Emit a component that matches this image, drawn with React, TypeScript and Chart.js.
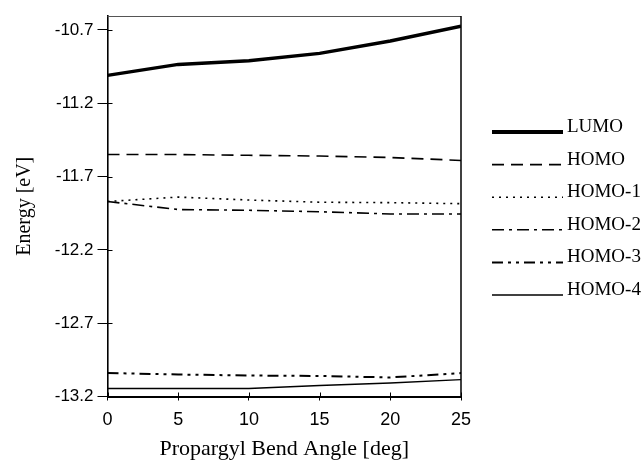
import React, { useEffect, useRef } from "react";
import { Chart, registerables } from "chart.js";

Chart.register(...registerables);

const angles = [0, 5, 10, 15, 20, 25];
const lumo = [-11.01, -10.935, -10.91, -10.86, -10.775, -10.675];
const homo = [-11.55, -11.55, -11.555, -11.56, -11.57, -11.59];
const homo1 = [-11.87, -11.84, -11.86, -11.875, -11.878, -11.885];
const homo2 = [-11.87, -11.925, -11.93, -11.94, -11.955, -11.955];
const homo3 = [-13.04, -13.05, -13.057, -13.06, -13.07, -13.04];
const homo4 = [-13.145, -13.145, -13.145, -13.125, -13.108, -13.085];

const seriesNames = ["LUMO", "HOMO", "HOMO-1", "HOMO-2", "HOMO-3", "HOMO-4"];
const yTicks = [-13.2, -12.7, -12.2, -11.7, -11.2, -10.7];
const xTicks = [0, 5, 10, 15, 20, 25];

const SERIF = "'Liberation Serif', 'Times New Roman', serif";
const SANS = "'Liberation Sans', Arial, sans-serif";

const styles = [
  { width: 3.5, dash: [] as number[] },
  { width: 1.6, dash: [12, 7] },
  { width: 1.6, dash: [2, 5] },
  { width: 1.6, dash: [12, 5, 3, 5] },
  { width: 2, dash: [11, 5, 3, 5, 3, 5] },
  { width: 1.4, dash: [] as number[] },
];

const boxPlugin = {
  id: "box",
  afterDatasetsDraw(chart: any) {
    const { ctx, chartArea: a, scales } = chart;
    ctx.save();
    ctx.strokeStyle = "#555";
    ctx.lineWidth = 1;
    ctx.beginPath();
    ctx.moveTo(a.left, a.top + 0.5);
    ctx.lineTo(a.right, a.top + 0.5);
    ctx.stroke();
    ctx.strokeStyle = "#000";
    ctx.lineWidth = 1.5;
    ctx.beginPath();
    ctx.moveTo(a.right, a.top);
    ctx.lineTo(a.right, a.bottom);
    ctx.stroke();
    // inner tick extensions
    ctx.lineWidth = 1;
    ctx.beginPath();
    yTicks.forEach((v) => {
      const y = Math.round(scales.y.getPixelForValue(v)) + 0.5;
      ctx.moveTo(a.left, y);
      ctx.lineTo(a.left + 5, y);
    });
    xTicks.forEach((v) => {
      const x = Math.round(scales.x.getPixelForValue(v)) + 0.5;
      ctx.moveTo(x, a.bottom);
      ctx.lineTo(x, a.bottom - 4);
    });
    ctx.stroke();
    ctx.restore();
  },
};

const legendPlugin = {
  id: "customLegend",
  afterDraw(chart: any) {
    const { ctx } = chart;
    ctx.save();
    const x0 = 492;
    const x1 = 563;
    chart.data.datasets.forEach((ds: any, i: number) => {
      const y = 127 + i * 32.6;
      ctx.strokeStyle = "#000";
      ctx.lineWidth = i === 0 ? 4 : ds.borderWidth;
      ctx.setLineDash(ds.borderDash || []);
      ctx.beginPath();
      ctx.moveTo(x0, y + 5);
      ctx.lineTo(x1, y + 5);
      ctx.stroke();
      ctx.setLineDash([]);
      ctx.fillStyle = "#000";
      ctx.font = `19px ${SERIF}`;
      ctx.textBaseline = "middle";
      ctx.textAlign = "left";
      ctx.fillText(ds.label, 567, y);
    });
    ctx.restore();
  },
};

export default function App() {
  const ref = useRef<HTMLCanvasElement>(null);
  useEffect(() => {
    if (!ref.current) return;
    const series = [lumo, homo, homo1, homo2, homo3, homo4];
    const chart = new Chart(ref.current, {
      type: "line",
      data: {
        datasets: series.map((vals, i) => ({
          label: seriesNames[i],
          data: angles.map((a, j) => ({ x: a, y: vals[j] })),
          borderColor: "#000",
          backgroundColor: "#000",
          borderWidth: styles[i].width,
          borderDash: styles[i].dash,
          pointRadius: 0,
          tension: 0,
          fill: false,
        })),
      },
      options: {
        responsive: false,
        animation: false,
        layout: { padding: { left: 0, right: 182, top: 16, bottom: 0 } },
        plugins: { legend: { display: false }, tooltip: { enabled: false } },
        scales: {
          x: {
            type: "linear",
            min: 0,
            max: 25,
            afterBuildTicks: (s: any) => {
              s.ticks = xTicks.map((v) => ({ value: v }));
            },
            afterFit: (s: any) => {
              s.height = 72.5;
            },
            grid: { display: true, drawOnChartArea: false, tickLength: 4, color: "#000", lineWidth: 1 },
            border: { display: true, color: "#000", width: 2 },
            ticks: { color: "#000", font: { family: SANS, size: 18 }, padding: 9, maxRotation: 0 },
            title: {
              display: true,
              text: "Propargyl Bend Angle [deg]",
              color: "#000",
              font: { family: SERIF, size: 22 },
              padding: { top: 0, bottom: 7 },
            },
          },
          y: {
            type: "linear",
            min: -13.2,
            max: -10.605,
            afterBuildTicks: (s: any) => {
              s.ticks = yTicks.map((v) => ({ value: v }));
            },
            afterFit: (s: any) => {
              s.width = 107.5;
            },
            grid: { display: true, drawOnChartArea: false, tickLength: 10, color: "#000", lineWidth: 1 },
            border: { display: true, color: "#000", width: 1.6 },
            ticks: {
              color: "#000",
              font: { family: SANS, size: 17 },
              padding: 4,
              callback: (v: any) => Number(v).toFixed(1),
            },
            title: {
              display: true,
              text: "Energy [eV]",
              color: "#000",
              font: { family: SERIF, size: 20 },
              padding: { top: 13, bottom: 0 },
            },
          },
        },
      },
      plugins: [boxPlugin, legendPlugin],
    });
    return () => chart.destroy();
  }, []);
  return (
    <div style={{ position: "absolute", left: 0, top: 0, width: 643, height: 469, background: "#fff" }}>
      <canvas ref={ref} width={643} height={469} />
    </div>
  );
}
